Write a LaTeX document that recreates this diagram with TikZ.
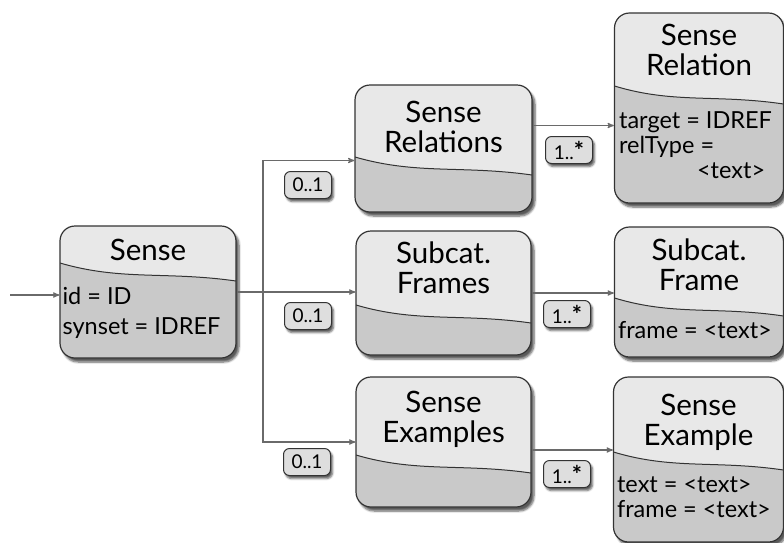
\documentclass[tikz,border=0pt]{standalone}
\usepackage{fontspec}
\setmainfont{Lato}
\usetikzlibrary{positioning, calc, arrows, shapes, shadows.blur}
\definecolor{boxtop}{HTML}{E8E8E8}
\definecolor{boxbottom}{HTML}{C9C9C9}
\definecolor{boxline}{HTML}{333333}
\definecolor{linkline}{HTML}{6A6A6A}
\definecolor{multfill}{HTML}{DEDEDE}
\tikzset{entity/.style={draw=boxline, line width=1.2pt, rounded corners=15pt, fill=boxbottom,
    blur shadow={shadow xshift=3pt, shadow yshift=-4pt, shadow blur steps=6, shadow opacity=65},
    path picture={
      \path (path picture bounding box.north west) coordinate (nw)
            (path picture bounding box.north east) coordinate (ne);
      \fill[boxtop, sharp corners] ([yshift=2pt]nw) -- ([yshift=-#1]nw)
        .. controls ([yshift=-#1-18pt]$(nw)!0.35!(ne)$) and ([yshift=-#1-8pt]$(nw)!0.6!(ne)$) ..
        ([yshift=-#1-18pt]ne) -- ([yshift=2pt]ne) -- cycle;
      \draw[boxline, line width=1pt, sharp corners] ([yshift=-#1]nw)
        .. controls ([yshift=-#1-18pt]$(nw)!0.35!(ne)$) and ([yshift=-#1-8pt]$(nw)!0.6!(ne)$) ..
        ([yshift=-#1-18pt]ne);
    }}}
\tikzset{title/.style={anchor=north, inner sep=0pt, align=center, font=\fontsize{29.5}{30}\selectfont}}
\tikzset{attr/.style={anchor=north west, inner sep=0pt, align=left, font=\fontsize{23.5}{25}\selectfont}}
\tikzset{mult/.style={draw=boxline, line width=1pt, fill=multfill, rounded corners=6pt,
    minimum width=47pt, minimum height=27pt, inner sep=2pt, font=\fontsize{19}{20}\selectfont,
    blur shadow={shadow xshift=2pt, shadow yshift=-3pt, shadow blur steps=4, shadow opacity=65}}}
\tikzset{link/.style={draw=linkline, line width=1.2pt, >=stealth'}}
\newcommand{\many}{1..{\fontsize{24}{20}\selectfont\bfseries *}}

\begin{document}
\begin{tikzpicture}[x=1pt, y=-1pt]
      \useasboundingbox (0,0) rectangle (784,542);

      \node[entity=37pt, minimum width=176pt, minimum height=132pt] (sense) at (148,292) {};
      \node[title] (sensetitle) at ([yshift=-14pt]sense.north) {Sense};
      \node[attr, font=\fontsize{23.5}{30}\selectfont] (senseattr) at ([xshift=3pt, yshift=-62pt]sense.north west) {id = ID\\synset = IDREF};

      \node[entity=72pt, minimum width=177pt, minimum height=127pt] (rels) at (443.5,148.5) {};
      \node[title] (relstitle) at ([yshift=-17pt]rels.north) {Sense\\Relations};

      \node[entity=74pt, minimum width=175pt, minimum height=124pt] (frames) at (443.5,293) {};
      \node[title] (framestitle) at ([yshift=-11pt]frames.north) {Subcat.\\Frames};

      \node[entity=78pt, minimum width=175pt, minimum height=130pt] (examples) at (443.5,442) {};
      \node[title] (examplestitle) at ([yshift=-15pt]examples.north) {Sense\\Examples};

      \node[entity=73pt, minimum width=169pt, minimum height=190pt] (relation) at (699,108) {};
      \node[title] (relationtitle) at ([yshift=-12pt]relation.north) {Sense\\Relation};
      \node[attr] (relationattr) at ([xshift=5pt, yshift=-99pt]relation.north west) {target = IDREF\\relType =\\\hspace*{78pt}<text>};

      \node[entity=71pt, minimum width=169pt, minimum height=130pt] (frame) at (699,292) {};
      \node[title] (frametitle) at ([yshift=-12pt]frame.north) {Subcat.\\Frame};
      \node[attr] (frameattr) at ([xshift=4pt, yshift=-95pt]frame.north west) {frame = <text>};

      \node[entity=75pt, minimum width=170pt, minimum height=165pt] (example) at (698.5,459.5) {};
      \node[title] (exampletitle) at ([yshift=-18pt]example.north) {Sense\\Example};
      \node[attr] (exampleattr) at ([xshift=4pt, yshift=-100pt]example.north west) {text = <text>\\frame = <text>};

      \coordinate (entry) at (10,295);
      \coordinate (fork) at (263,292);
      \draw[link, ->] (entry) -- (entry -| sense.west);
      \draw[link] (sense.east) -- (fork);
      \draw[link, ->] (fork) -- (fork -| frames.west);
      \draw[link, ->] (fork) |- ([yshift=-12pt]rels.west);
      \draw[link, ->] (fork) |- (examples.west);
      \draw[link, ->] ([yshift=23pt]rels.east) -- ([yshift=23pt]rels.east -| relation.west);
      \draw[link, ->] (frames.east) -- (frames.east -| frame.west);
      \draw[link, ->] ([yshift=-8pt]examples.east) -- ([yshift=-8pt]examples.east -| example.west);

      \node[mult] (relsmult) at (308,185) {0..1};
      \node[mult] (framesmult) at (308,316) {0..1};
      \node[mult] (examplesmult) at (307,462) {0..1};
      \node[mult] (relationmult) at (569,150) {\many};
      \node[mult] (framemult) at (567,314) {\many};
      \node[mult] (examplemult) at (567,474) {\many};

    \end{tikzpicture}
\end{document}
